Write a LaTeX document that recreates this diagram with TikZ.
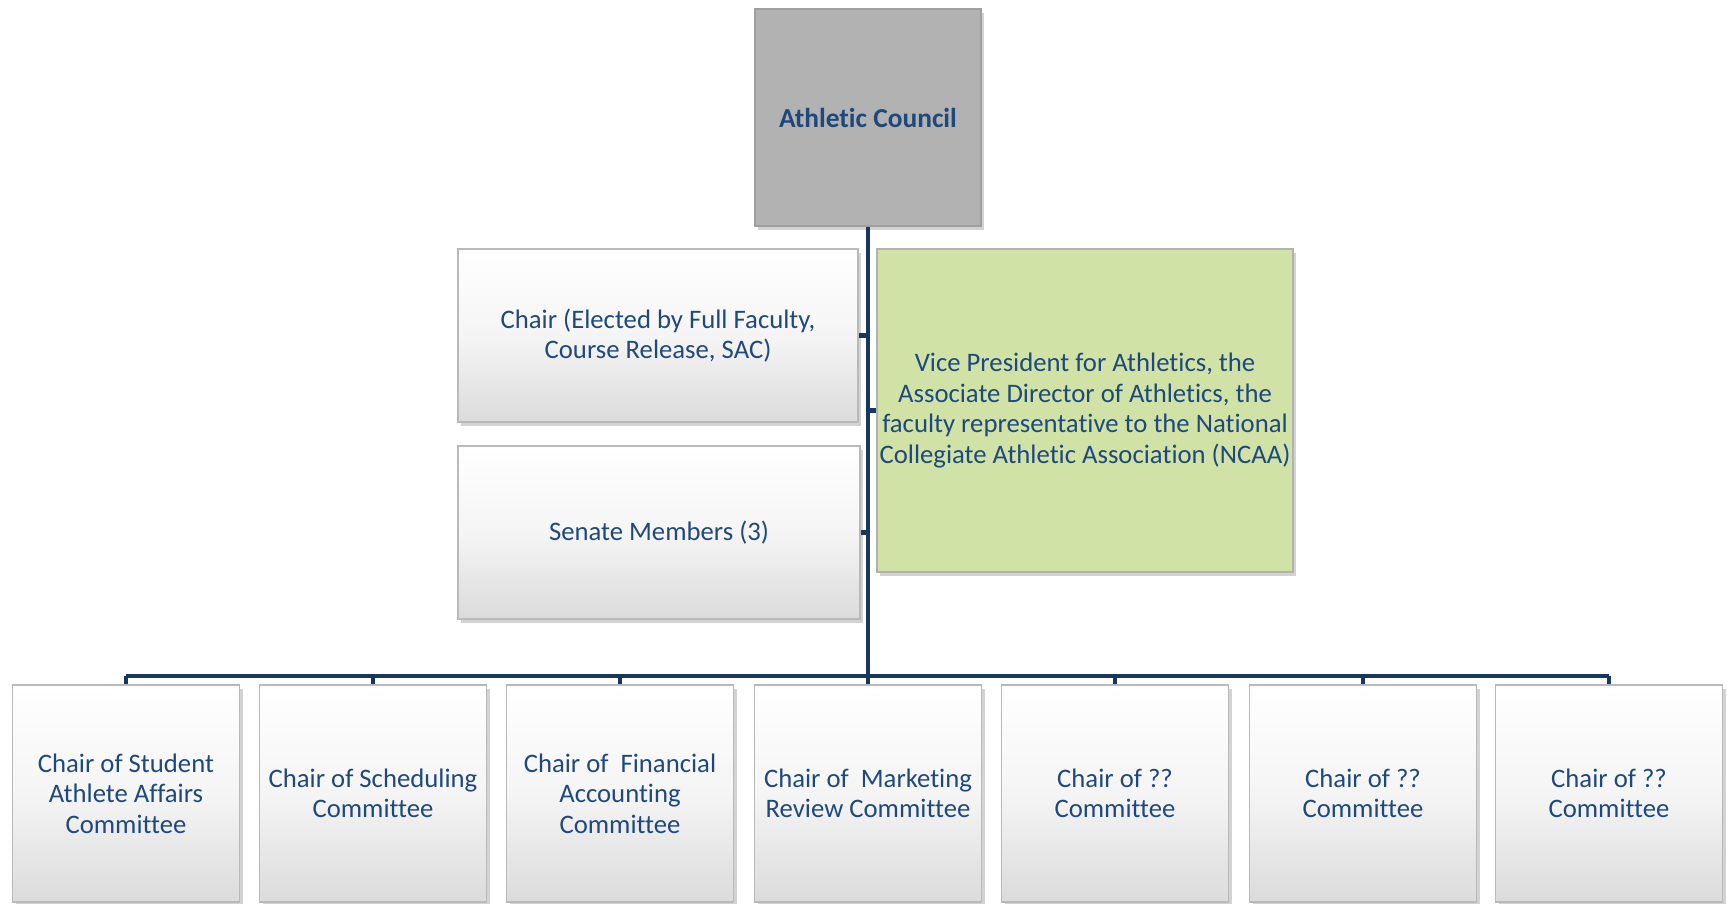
\documentclass[tikz,border=0pt]{standalone}
\usepackage{fontspec}
\setmainfont{Carlito}[Ligatures=NoCommon]
\usetikzlibrary{shadows,calc}
\definecolor{navy}{RGB}{23,55,94}
\definecolor{textblue}{RGB}{31,73,125}
\definecolor{councilgray}{RGB}{178,178,178}
\definecolor{vpgreen}{RGB}{209,226,166}
\tikzset{box/.style={rectangle, draw=gray!55, line width=1pt, align=center, text=textblue, font=\fontsize{15.2}{17.4}\selectfont, drop shadow={shadow xshift=0.6mm, shadow yshift=-0.9mm, opacity=0.35}}, whitebox/.style={box, top color=white, bottom color=gray!28, middle color=gray!8}, link/.style={navy, line width=2.6pt}}

\begin{document}
\begin{tikzpicture}
\useasboundingbox (0,0) rectangle (34.56,18.08);
% top of the chart
\node[box, fill=councilgray, draw=gray!75, minimum width=4.52cm, minimum height=4.34cm, font=\fontsize{15.6}{17.4}\selectfont\bfseries] (council) at (17.36,15.73) {Athletic Council};
\node[whitebox, minimum width=8.0cm, minimum height=3.46cm] (chairbox) at (13.16,11.37) {Chair (Elected by Full Faculty,\\Course Release, SAC)};
\node[whitebox, minimum width=8.04cm, minimum height=3.46cm] (senate) at (13.18,7.43) {Senate Members (3)};
\node[box, fill=vpgreen, draw=gray!60, inner sep=0pt, minimum width=8.32cm, minimum height=6.46cm] (vp) at (21.70,9.87) {Vice President for Athletics, the\\Associate Director of Athletics, the\\faculty representative to the National\\Collegiate Athletic Association (NCAA)};
% committee chairs
\node[whitebox, minimum width=4.54cm, minimum height=4.34cm] (com1) at (2.52,2.21) {Chair of Student\\Athlete Affairs\\Committee};
\node[whitebox, minimum width=4.54cm, minimum height=4.34cm] (com2) at (7.46,2.21) {Chair of Scheduling\\Committee};
\node[whitebox, minimum width=4.54cm, minimum height=4.34cm] (com3) at (12.40,2.21) {Chair of~ Financial\\Accounting\\Committee};
\node[whitebox, minimum width=4.54cm, minimum height=4.34cm] (com4) at (17.36,2.21) {Chair of~ Marketing\\Review Committee};
\node[whitebox, minimum width=4.54cm, minimum height=4.34cm] (com5) at (22.30,2.21) {Chair of ??\\Committee};
\node[whitebox, minimum width=4.54cm, minimum height=4.34cm] (com6) at (27.26,2.21) {Chair of ??\\Committee};
\node[whitebox, minimum width=4.54cm, minimum height=4.34cm] (com7) at (32.18,2.21) {Chair of ??\\Committee};
\coordinate (bus) at (17.36,4.56);
% connectors
\draw[link] (council.south) -- (bus);
\draw[link] (chairbox.east) -- (chairbox.east -| council.south);
\draw[link] (senate.east) -- (senate.east -| council.south);
\draw[link] (vp.west) -- (vp.west -| council.south);
\draw[link] (com1.north |- bus) -- (com7.north |- bus);
\foreach \c in {com1,com2,com3,com4,com5,com6,com7}
\draw[link] (\c.north |- bus) -- (\c.north);
\end{tikzpicture}
\end{document}
